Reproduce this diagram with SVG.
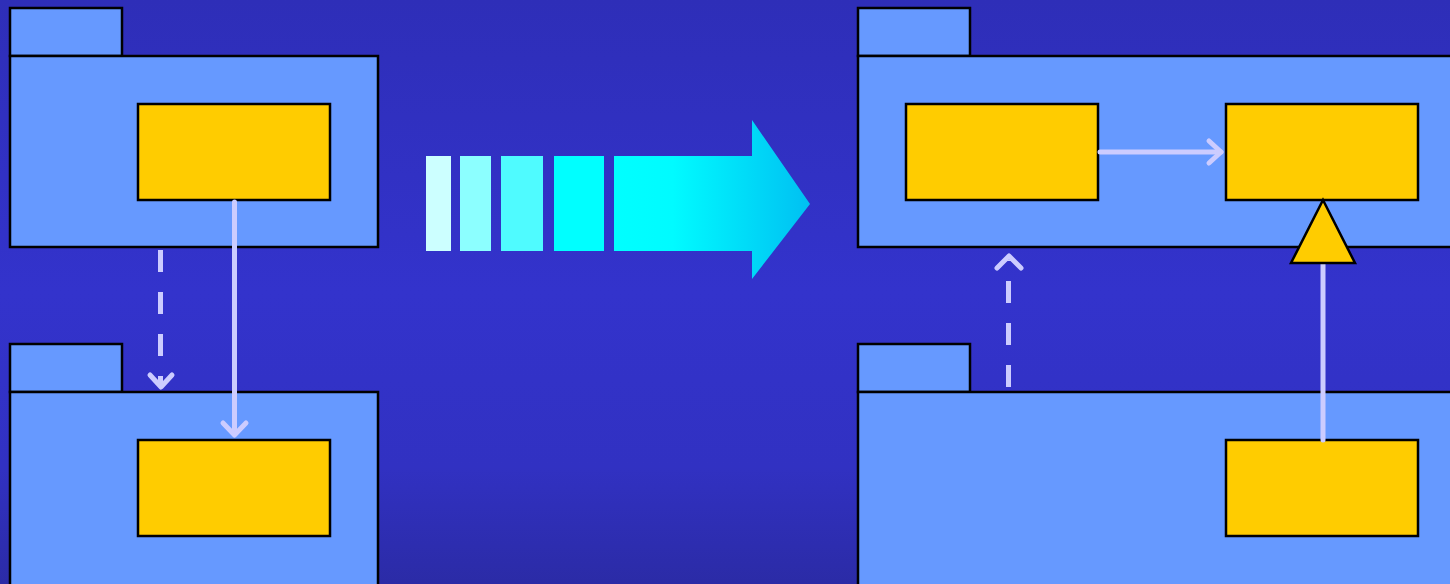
<svg xmlns="http://www.w3.org/2000/svg" width="1450" height="584" viewBox="0 0 1450 584">
  <defs>
    <linearGradient id="bg" x1="0" y1="0" x2="0" y2="1">
      <stop offset="0" stop-color="#2e2eb8"/>
      <stop offset="0.5" stop-color="#3333cc"/>
      <stop offset="0.8" stop-color="#3131c2"/>
      <stop offset="1" stop-color="#2b2ba6"/>
    </linearGradient>
    <linearGradient id="flow" gradientUnits="userSpaceOnUse" x1="614" y1="0" x2="810" y2="0">
      <stop offset="0" stop-color="#00ffff"/>
      <stop offset="0.3" stop-color="#00fbff"/>
      <stop offset="1" stop-color="#00c0f2"/>
    </linearGradient>
    <style>
      .pkg { fill: #6699ff; stroke: #000; stroke-width: 2.5; }
      .cls { fill: #ffcc00; stroke: #000; stroke-width: 2.5; }
      .wire { fill: none; stroke: #ccccff; stroke-width: 5; stroke-linecap: round; stroke-linejoin: round; }
      .dash { fill: none; stroke: #ccccff; stroke-width: 5; stroke-dasharray: 22 20; }
    </style>
  </defs>

  <rect width="1450" height="584" fill="url(#bg)"/>

  <!-- left, upper package -->
  <g id="pkg-left-top">
    <rect class="pkg" x="10" y="8" width="112" height="48"/>
    <rect class="pkg" x="10" y="56" width="368" height="191"/>
    <rect class="cls" x="138" y="104" width="192" height="96"/>
  </g>

  <!-- left, lower package -->
  <g id="pkg-left-bottom">
    <rect class="pkg" x="10" y="344" width="112" height="48"/>
    <rect class="pkg" x="10" y="392" width="368" height="200"/>
    <rect class="cls" x="138" y="440" width="192" height="96"/>
  </g>

  <!-- right, upper package -->
  <g id="pkg-right-top">
    <rect class="pkg" x="858" y="8" width="112" height="48"/>
    <rect class="pkg" x="858" y="56" width="600" height="191"/>
    <rect class="cls" x="906" y="104" width="192" height="96"/>
    <rect class="cls" x="1226" y="104" width="192" height="96"/>
  </g>

  <!-- right, lower package -->
  <g id="pkg-right-bottom">
    <rect class="pkg" x="858" y="344" width="112" height="48"/>
    <rect class="pkg" x="858" y="392" width="600" height="200"/>
    <rect class="cls" x="1226" y="440" width="192" height="96"/>
  </g>

  <!-- transformation arrow -->
  <g id="transform-arrow">
    <rect x="426" y="156" width="25" height="95" fill="#ccffff"/>
    <rect x="460" y="156" width="31" height="95" fill="#8cffff"/>
    <rect x="501" y="156" width="42" height="95" fill="#4ffbff"/>
    <rect x="554" y="156" width="50" height="95" fill="#00ffff"/>
    <polygon points="614,156 752,156 752,120 810,204 752,279 752,251 614,251" fill="url(#flow)"/>
  </g>

  <g id="connectors">
    <!-- left: dependency -->
    <line class="dash" x1="160.5" y1="250" x2="160.5" y2="386"/>
    <polyline class="wire" points="150,375 161,387 172,375"/>
    <!-- left: association -->
    <line class="wire" x1="234.5" y1="202" x2="234.5" y2="434"/>
    <polyline class="wire" points="223,423 234.5,435 246,423"/>
    <!-- right: association between classes -->
    <line class="wire" x1="1100" y1="152" x2="1221" y2="152"/>
    <polyline class="wire" points="1209,141 1221,152 1209,163"/>
    <!-- right: dependency upward -->
    <line class="dash" x1="1008.5" y1="387" x2="1008.5" y2="260"/>
    <polyline class="wire" points="997,268 1009,256 1021,268"/>
    <!-- right: generalization -->
    <line class="wire" x1="1323" y1="264" x2="1323" y2="440" stroke-linecap="butt"/>
    <polygon points="1323,200 1355,263 1291,263" fill="#ffcc00" stroke="#000" stroke-width="2.5" stroke-linejoin="miter"/>
  </g>
</svg>
